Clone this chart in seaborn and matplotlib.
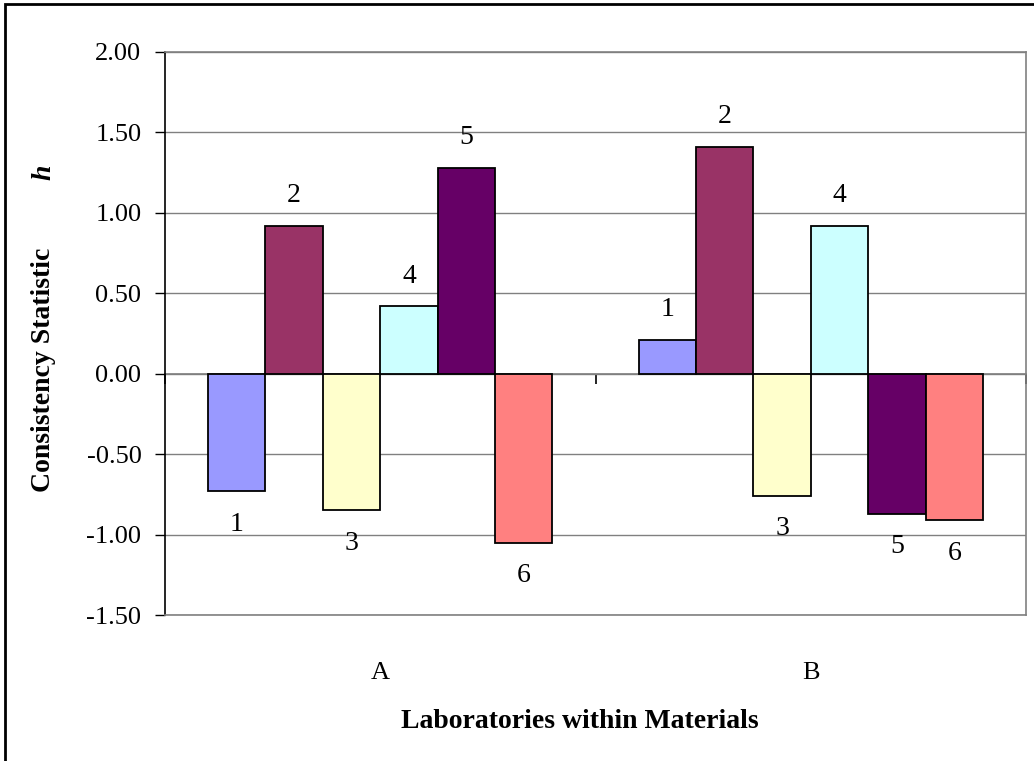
import matplotlib
matplotlib.use("Agg")
import matplotlib.pyplot as plt
import matplotlib.patches as mpatches
import seaborn as sns
import pandas as pd

# ---- data ----
materials = ["A", "B"]
labs = ["1", "2", "3", "4", "5", "6"]
h_A = [-0.73, 0.92, -0.85, 0.42, 1.28, -1.05]
h_B = [0.21, 1.41, -0.76, 0.92, -0.87, -0.91]
lab_colors = ["#9999FF", "#993366", "#FFFFCC", "#CCFFFF", "#660066", "#FF8080"]
y_ticks = [-1.5, -1.0, -0.5, 0.0, 0.5, 1.0, 1.5, 2.0]

rows = []
for m, vals in zip(materials, [h_A, h_B]):
    for lab, v in zip(labs, vals):
        rows.append({"material": m, "lab": lab, "h": v})
df = pd.DataFrame(rows)

sns.set_theme(style="white")
plt.rcParams["font.family"] = ["Liberation Serif", "DejaVu Serif"]
plt.rcParams["text.color"] = "black"
plt.rcParams["xtick.color"] = "black"
plt.rcParams["ytick.color"] = "black"
plt.rcParams["axes.labelcolor"] = "black"

W, H = 1034, 761
fig = plt.figure(figsize=(W / 100, H / 100), dpi=100)
ax = fig.add_axes([165 / W, (H - 615) / H, (1026 - 165) / W, (615 - 52) / H])

sns.barplot(data=df, x="material", y="h", hue="lab", order=materials,
            hue_order=labs, palette=lab_colors, saturation=1,
            edgecolor="black", linewidth=1.3, width=0.8, gap=0,
            legend=False, ax=ax, zorder=3)

ymin, ymax = y_ticks[0], y_ticks[-1]
ax.set_ylim(ymin, ymax)
ax.set_xlim(-0.5, len(materials) - 0.5)
ax.set_yticks(y_ticks)
ax.set_yticklabels([f"{t:.2f}" for t in y_ticks])
ax.yaxis.grid(True, color="#808080", linewidth=1.0, zorder=0)
ax.set_axisbelow(True)

for side in ["top", "right", "bottom"]:
    ax.spines[side].set_color("#808080")
    ax.spines[side].set_linewidth(1.2)
ax.spines["left"].set_color("black")
ax.spines["left"].set_linewidth(1.2)

ax.tick_params(axis="y", which="major", direction="out", length=7, width=1,
               color="black", pad=10, labelsize=19, left=True,
               labelcolor="black")
ax.tick_params(axis="x", length=0, pad=34, labelsize=19, labelcolor="black")
ax.set_xlabel("")
ax.set_ylabel("")

# category axis crossing at zero, with tick marks between categories
zero_loc = (0 - ymin) / (ymax - ymin)
sec = ax.secondary_xaxis(zero_loc)
sec.set_xticks([i - 0.5 for i in range(len(materials) + 1)])
sec.set_xticklabels([""] * (len(materials) + 1))
sec.tick_params(direction="out", length=7, width=1.2, color="black")
sec.spines["bottom"].set_color("#808080")
sec.spines["bottom"].set_linewidth(1.2)
for s in ["top", "left", "right"]:
    sec.spines[s].set_visible(False)

# data labels (lab numbers)
for lab, cont in zip(labs, ax.containers):
    for bar in cont:
        v = bar.get_height()
        x = bar.get_x() + bar.get_width() / 2
        if v < 0:
            edge = min(bar.get_y(), bar.get_y() + v)
            off = -33
        else:
            edge = max(bar.get_y(), bar.get_y() + v)
            off = 30
        ax.annotate(lab, (x, edge), xytext=(0, off), textcoords="offset pixels",
                    ha="center", va="center", fontsize=20, color="black",
                    zorder=5)

# axis titles
fig.text(44 / W, 1 - 370 / H, "Consistency Statistic", rotation=90,
         ha="center", va="center", fontsize=20, fontweight="bold")
fig.text(44 / W, 1 - 172 / H, "h", rotation=90, ha="center", va="center",
         fontsize=20, fontweight="bold", fontstyle="italic")
fig.text(580 / W, 1 - 722 / H, "Laboratories within Materials",
         ha="center", va="center", fontsize=20, fontweight="bold")

# chart-area border
fig.patches.append(mpatches.Rectangle((5 / W, -0.1), 1.2, 1 - 4 / H + 0.1,
                                      transform=fig.transFigure, fill=False,
                                      edgecolor="black", linewidth=2))

fig.savefig("out.png", dpi=100)
